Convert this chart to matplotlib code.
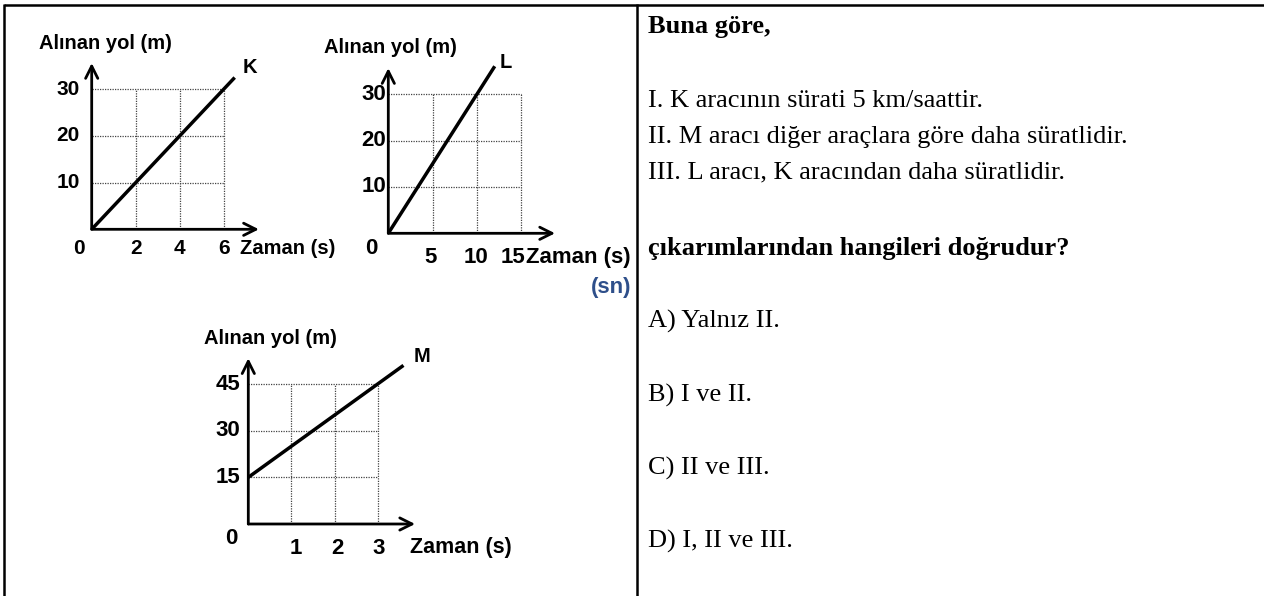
import matplotlib
matplotlib.use("Agg")
import matplotlib.pyplot as plt

# ---------------- data ----------------
k_time = [0, 6.5]
k_dist = [0, 32.5]
k_xticks = [2, 4, 6]
k_yticks = [10, 20, 30]

l_time = [0, 12]
l_dist = [0, 36]
l_xticks = [5, 10, 15]
l_yticks = [10, 20, 30]

m_time = [0, 3.6]
m_dist = [15, 51]
m_xticks = [1, 2, 3]
m_yticks = [15, 30, 45]

y_label = "Alınan yol (m)"
x_label = "Zaman (s)"

question_head = "Buna göre,"
statements = [
    "I. K aracının sürati 5 km/saattir.",
    "II. M aracı diğer araçlara göre daha süratlidir.",
    "III. L aracı, K aracından daha süratlidir.",
]
question_tail = "çıkarımlarından hangileri doğrudur?"
choices = ["A) Yalnız II.", "B) I ve II.", "C) II ve III.", "D) I, II ve III."]

# ---------------- figure ----------------
W, H = 1264, 596
fig = plt.figure(figsize=(W / 100, H / 100), dpi=100)
fig.patch.set_facecolor("white")

# background axes in pixel coordinates
bg = fig.add_axes([0, 0, 1, 1])
bg.set_xlim(0, W)
bg.set_ylim(H, 0)
bg.axis("off")

# table borders
bg.plot([4, W], [5, 5], color="black", lw=1.8, solid_capstyle="butt")
bg.plot([4, 4], [4, H], color="black", lw=1.8, solid_capstyle="butt")
bg.plot([636.5, 636.5], [4, H], color="black", lw=1.8, solid_capstyle="butt")

serif = "Liberation Serif"
tx = 648
bg.text(tx, 33, question_head, fontsize=19, fontweight="bold", family=serif,
        va="baseline", ha="left")
for i, s in enumerate(statements):
    bg.text(tx, 107 + i * 35.5, s, fontsize=19, family=serif,
            va="baseline", ha="left")
bg.text(tx, 255, question_tail, fontsize=19, fontweight="bold", family=serif,
        va="baseline", ha="left")
for i, c in enumerate(choices):
    bg.text(tx, 328 + i * 73.3, c, fontsize=19, family=serif,
            va="baseline", ha="left")

sans = "Liberation Sans"
LAB_FS = 14.5


def make_axes(ox, oy, sx, sy, xlim, ylim):
    left = ox + xlim[0] * sx
    right = ox + xlim[1] * sx
    top = oy - ylim[1] * sy
    bottom = oy - ylim[0] * sy
    ax = fig.add_axes([left / W, 1 - bottom / H, (right - left) / W,
                       (bottom - top) / H])
    ax.set_xlim(*xlim)
    ax.set_ylim(*ylim)
    ax.axis("off")
    ax.patch.set_alpha(0)
    return ax


def draw_chart(ax, t, d, xt, yt, x_arrow, y_arrow, name, name_xy,
               ytick_dx, xtick_dy, xtick_dx, zero_off, zaman_off, ylab_xy,
               tick_fs, zaman_fs):
    # grid
    for v in xt:
        ax.plot([v, v], [0, yt[-1]], color="#444444", lw=0.9,
                linestyle=(0, (1, 1)), clip_on=False)
    for v in yt:
        ax.plot([0, xt[-1]], [v, v], color="#444444", lw=0.9,
                linestyle=(0, (1, 1)), clip_on=False)
    # axes arrows
    ax.annotate("", xy=(x_arrow, 0), xytext=(0, 0),
                arrowprops=dict(arrowstyle="->", lw=2.0, color="black",
                                mutation_scale=22, shrinkA=0, shrinkB=0),
                annotation_clip=False)
    ax.annotate("", xy=(0, y_arrow), xytext=(0, 0),
                arrowprops=dict(arrowstyle="->", lw=2.0, color="black",
                                mutation_scale=22, shrinkA=0, shrinkB=0),
                annotation_clip=False)
    # data line
    ax.plot(t, d, color="black", lw=2.5, solid_capstyle="butt", clip_on=False)
    # tick labels
    for v in yt:
        ax.annotate(str(v), xy=(0, v), xytext=(ytick_dx, 0),
                    textcoords="offset pixels", ha="right", va="center",
                    fontsize=tick_fs, fontweight="bold", family=sans,
                    annotation_clip=False)
    for v, dx in zip(xt, xtick_dx):
        ax.annotate(str(v), xy=(v, 0), xytext=(dx, -xtick_dy),
                    textcoords="offset pixels", ha="center", va="center",
                    fontsize=tick_fs, fontweight="bold", family=sans,
                    annotation_clip=False)
    ax.annotate("0", xy=(0, 0), xytext=zero_off, textcoords="offset pixels",
                ha="center", va="center", fontsize=tick_fs, fontweight="bold",
                family=sans, annotation_clip=False)
    ax.annotate(x_label, xy=(xt[-1], 0), xytext=zaman_off,
                textcoords="offset pixels", ha="left", va="center",
                fontsize=zaman_fs, fontweight="bold", family=sans,
                annotation_clip=False)
    ax.annotate(name, xy=(t[-1], d[-1]), xytext=name_xy,
                textcoords="offset pixels", ha="center", va="center",
                fontsize=LAB_FS, fontweight="bold", family=sans,
                annotation_clip=False)
    ax.annotate(y_label, xy=(0, y_arrow), xytext=ylab_xy,
                textcoords="offset pixels", ha="center", va="center",
                fontsize=LAB_FS, fontweight="bold", family=sans,
                annotation_clip=False)


# chart K
axK = make_axes(91.7, 229.3, 22.0, 4.67, (-1, 8), (-2, 38))
draw_chart(axK, k_time, k_dist, k_xticks, k_yticks, 7.6, 35.6, "K", (15, 10),
           -12, 19, [0, 0, 0], (-12.7, -19), (16, -19), (14, 20), 15, 14.5)

# chart L
axL = make_axes(388.3, 233.3, 8.87, 4.64, (-2, 20), (-2, 38))
draw_chart(axL, l_time, l_dist, l_xticks, l_yticks, 18.8, 35.6, "L", (11, 4),
           -2, 24, [-2, -1, -8], (-16.6, -15), (5, -24), (2, 21), 16, 16)

# chart M
axM = make_axes(248.3, 524.0, 43.1, 3.11, (-0.5, 4.2), (-5, 56))
draw_chart(axM, m_time, m_dist, m_xticks, m_yticks, 3.87, 53.3, "M", (19, 9),
           -8, 24, [4, 3, 1], (-16.6, -14), (32, -24), (22, 20), 16, 15.5)

# blue unit note
bg.text(631, 288, "(sn)", fontsize=16, fontweight="bold", family=sans,
        color="#2E4F8A", ha="right", va="center")

fig.savefig("out.png", dpi=100, facecolor="white")
